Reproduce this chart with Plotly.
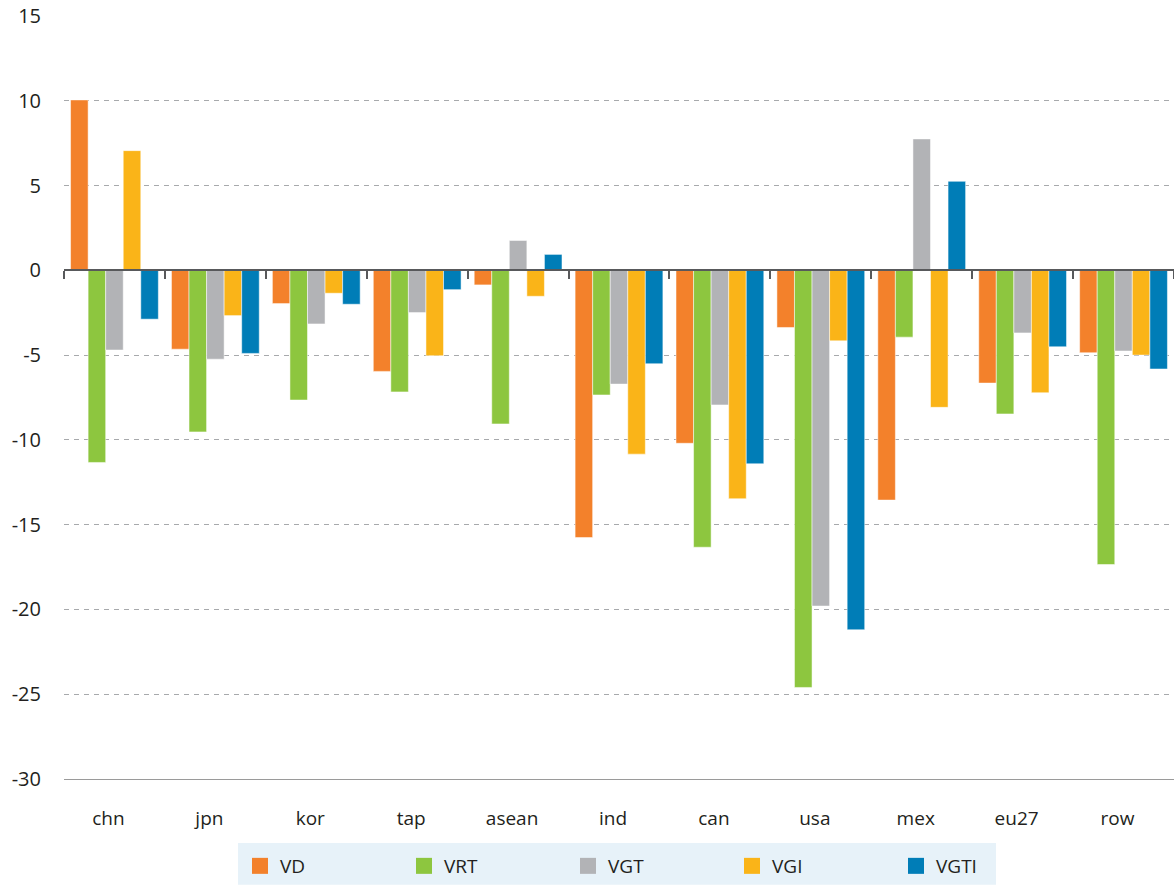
import plotly.graph_objects as go

categories = ["chn", "jpn", "kor", "tap", "asean", "ind", "can", "usa", "mex", "eu27", "row"]
series_names = ["VD", "VRT", "VGT", "VGI", "VGTI"]
VD = [10.05, -4.65, -1.96, -5.96, -0.86, -15.76, -10.2, -3.37, -13.55, -6.65, -4.86]
VRT = [-11.33, -9.53, -7.65, -7.17, -9.06, -7.35, -16.33, -24.6, -3.94, -8.47, -17.35]
VGT = [-4.7, -5.24, -3.16, -2.49, 1.76, -6.71, -7.94, -19.8, 7.75, -3.69, -4.76]
VGI = [7.06, -2.67, -1.35, -5.04, -1.53, -10.84, -13.47, -4.16, -8.08, -7.22, -5.0]
VGTI = [-2.88, -4.9, -2.0, -1.14, 0.94, -5.51, -11.41, -21.2, 5.25, -4.51, -5.82]
colors = ["#F3812B", "#8DC63F", "#B2B3B6", "#FAB418", "#007DB7"]
y_ticks = [15, 10, 5, 0, -5, -10, -15, -20, -25, -30]

FONT = "Open Sans"
TXT = "#231F20"
fig = go.Figure()
for name, vals, col in zip(series_names, [VD, VRT, VGT, VGI, VGTI], colors):
    fig.add_trace(go.Bar(x=categories, y=vals, name=name, marker_color=col,
                         marker_line=dict(color="rgba(255,255,255,0.5)", width=1),
                         showlegend=False, legendgroup=name))
# legend entries (square keys)
for name, col in zip(series_names, colors):
    fig.add_trace(go.Scatter(x=[None], y=[None], mode="markers", name=name,
                             marker=dict(symbol="square", size=16, color=col),
                             legendgroup=name, showlegend=True, hoverinfo="skip"))

# helper trace for the zero-line category axis
fig.add_trace(go.Scatter(x=categories, y=[None] * len(categories), xaxis="x2",
                         showlegend=False, hoverinfo="skip", mode="lines"))

fig.update_layout(
    width=1174, height=885,
    margin=dict(l=64, r=0, t=16, b=105),
    plot_bgcolor="white", paper_bgcolor="white",
    barmode="group", bargap=0.13, bargroupgap=0,
    font=dict(family=FONT, size=19, color=TXT),
    showlegend=True,
    legend=dict(orientation="h", x=(240 - 64) / 1110, xanchor="left",
                y=(780 - 867) / 764, yanchor="middle",
                bgcolor="rgba(0,0,0,0)", entrywidth=119,
                font=dict(family=FONT, size=19, color=TXT),
                traceorder="normal"),
    xaxis=dict(type="category", showline=True, linecolor="#9A9A9A", linewidth=1.3,
               ticks="", showgrid=False, tickfont=dict(family=FONT, size=19, color=TXT),
               ticklabelstandoff=22, ticklabelshift=-6,
               range=[-0.5, 10.5], fixedrange=True),
    xaxis2=dict(type="category", overlaying="x", matches="x", anchor="free",
                position=30 / 45, side="bottom", showline=True, linecolor="#58595B",
                linewidth=1.6, ticks="outside", tickson="boundaries", ticklen=8,
                tickwidth=1.6, tickcolor="#58595B", showticklabels=False,
                showgrid=False),
    yaxis=dict(range=[-30, 15], tickvals=y_ticks, ticktext=[str(v) for v in y_ticks],
               showgrid=True, gridcolor="#A7A9AC", griddash="5px,5px", gridwidth=1,
               zeroline=False, showline=False, ticks="", ticklabelstandoff=22,
               tickfont=dict(family=FONT, size=20, color=TXT), domain=[0, 1]),
    shapes=[dict(type="rect", xref="paper", yref="paper", layer="below",
                 x0=(238 - 64) / 1110, x1=(996 - 64) / 1110,
                 y0=-106 / 764, y1=(780 - 844) / 764,
                 fillcolor="#E7F2F9", line=dict(width=0))],
)

fig.write_html("out.html", config={"displayModeBar": False},
               post_script="document.body.style.margin='0';document.body.style.overflow='hidden';")
